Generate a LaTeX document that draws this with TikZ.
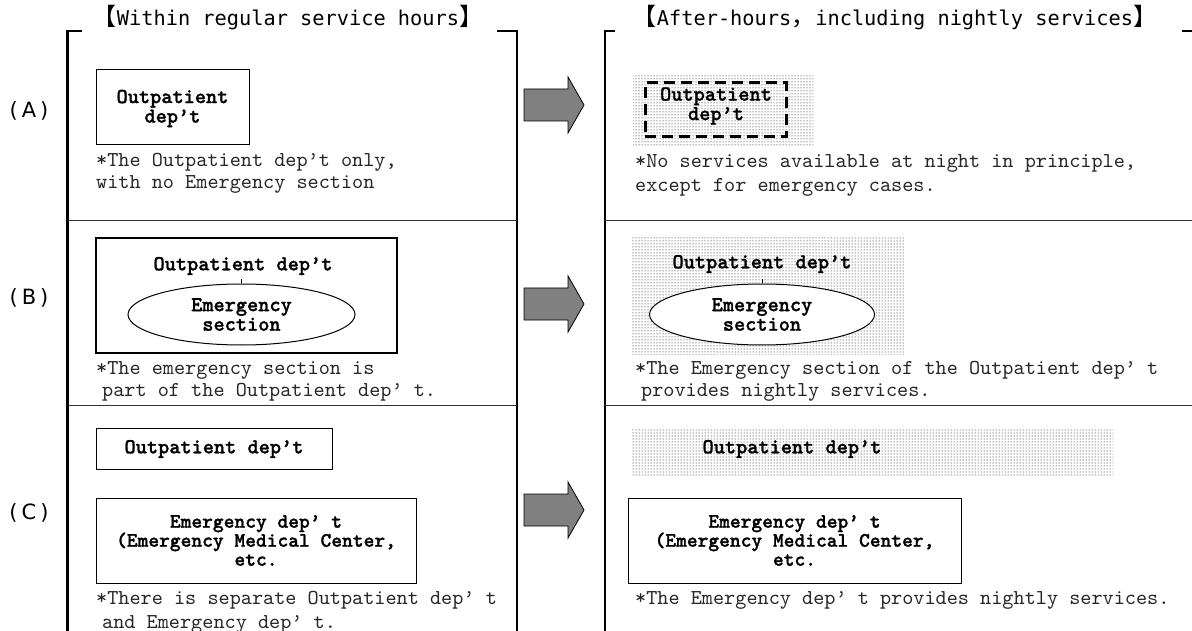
\documentclass[tikz,border=0pt]{standalone}
\usepackage{fontspec}
\usetikzlibrary{shapes.geometric,patterns}
\newfontfamily\notefont{lmmono10-regular}[Extension=.otf]
\newfontfamily\lblfont{lmmonolt10-bold}[Extension=.otf, FakeBold=1.2]
\newfontfamily\titlefont{DejaVu Sans Mono}
\newfontfamily\cjkfont{Noto Sans CJK SC}
\newfontfamily\labfont{DejaVu Sans}
\newcommand\lbr{{\cjkfont\fontsize{24}{24}\selectfont 【}}
\newcommand\rbr{{\cjkfont\fontsize{24}{24}\selectfont 】}}
\newcommand\fwcomma{{\cjkfont\fontsize{24}{24}\selectfont ，}}
\newcommand\grayarrow[2]{%
  \draw[garrow] (524,{#2-16}) -- (568,{#2-16}) -- (568,{#2-28}) -- (584,#2)
    -- (568,{#2+28}) -- (568,{#2+16}) -- (524,{#2+16}) -- cycle;
  \coordinate (#1) at (554,#2);}
\begin{document}
\begin{tikzpicture}[x=1pt,y=-1pt,
  frame/.style={line width=2.5pt},
  sepline/.style={line width=1pt, draw=black!80},
  box/.style={draw, line width=1pt, fill=white, inner sep=0pt},
  thickbox/.style={draw, line width=2.2pt, inner sep=0pt},
  dotbg/.style={pattern=dots, pattern color=black, inner sep=0pt},
  dashbox/.style={draw, line width=3pt, dash pattern=on 11pt off 6pt, inner sep=0pt},
  lbl/.style={font=\lblfont\fontsize{21.3}{19.5}\selectfont, align=center, inner sep=0pt},
  note/.style={font=\notefont\fontsize{21.2}{22}\selectfont, anchor=west, inner sep=0pt, text=black!85},
  ttl/.style={font=\titlefont\fontsize{20.3}{24}\selectfont, inner sep=0pt},
  rowlab/.style={font=\labfont\fontsize{21}{24}\selectfont, inner sep=0pt},
  garrow/.style={draw, line width=0.8pt, fill=black!50},
  ell/.style={ellipse, draw, line width=1pt, fill=white, inner sep=0pt, align=center,
     font=\lblfont\fontsize{21.3}{19.5}\selectfont}
]
\useasboundingbox (0,0) rectangle (1192,631);
\fill[white] (0,0) rectangle (1192,631);

% titles
\node[ttl] (t1) at (288,18) {\lbr Within regular service hours\rbr};
\node[ttl] (t2) at (895,18) {\lbr After-hours\fwcomma including nightly services\rbr};

% frames
\draw[frame] (82,31) -- (67.7,31) -- (67.7,640);
\draw[frame] (497,31) -- (517,31) -- (517,640);
\draw[frame] (615,31) -- (605,31) -- (605,640);
\draw[frame] (1182,31) -- (1192,31);
\draw[sepline] (67.7,221) -- (517,221);
\draw[sepline] (67.7,405) -- (517,405);
\draw[sepline] (605,221) -- (1192,221);
\draw[sepline] (605,405) -- (1192,405);

% row labels
\node[rowlab] (ra) at (29,111) {(\hspace{4pt}A\hspace{4pt})};
\node[rowlab] (rb) at (29,298) {(\hspace{4pt}B\hspace{4pt})};
\node[rowlab] (rc) at (29,513) {(\hspace{4pt}C\hspace{4pt})};

% arrows
\grayarrow{arA}{105}
\grayarrow{arB}{304}
\grayarrow{arC}{510}

% ---- Row A ----
\node[box, minimum width=153pt, minimum height=75pt] (boxA) at (172.5,107.5) {};
\node[lbl] (lblA) at (172.5,108.5) {Outpatient\\dep’t};
\node[note] (nA1) at (96,162) {*The Outpatient dep’t only,};
\node[note] (nA2) at (96,184) {with no Emergency section};

\node[dotbg, minimum width=180pt, minimum height=71pt] (dotA) at (723,111.5) {};
\node[dashbox, minimum width=141pt, minimum height=54pt] (dashA) at (715.5,110) {};
\node[lbl] (lblAr) at (716,106) {Outpatient\\dep’t};
\node[note] (nAr1) at (635,163) {*No services available at night in principle,};
\node[note] (nAr2) at (635,187) {except for emergency cases.};

% ---- Row B ----
\node[thickbox, minimum width=301pt, minimum height=115pt] (boxB) at (246.5,295.5) {};
\node[lbl] (lblB) at (243,266) {Outpatient dep’t};
\node[ell, minimum width=227pt, minimum height=61pt] (ellB) at (241.5,314.5) {Emergency\\section};
\draw[line width=0.6pt] (ellB.north) -- ++(0,-4);
\node[note] (nB1) at (96,370) {*The emergency section is};
\node[note] (nB2) at (102,392) {part of the Outpatient dep’ t.};

\node[dotbg, minimum width=272pt, minimum height=117pt] (dotB) at (768,295.5) {};
\node[lbl] (lblBr) at (762,264) {Outpatient dep’t};
\node[ell, minimum width=225pt, minimum height=61pt] (ellBr) at (762,314.5) {Emergency\\section};
\draw[line width=0.6pt] (ellBr.north) -- ++(0,-4);
\node[note] (nBr1) at (635,370) {*The Emergency section of the Outpatient dep’ t};
\node[note] (nBr2) at (641,392) {provides nightly services.};

% ---- Row C ----
\node[box, minimum width=236pt, minimum height=41pt] (boxC1) at (214,448.5) {};
\node[lbl] (lblC1) at (214,449) {Outpatient dep’t};
\node[box, minimum width=320pt, minimum height=85pt, align=center,
      font=\lblfont\fontsize{20.5}{19}\selectfont] (boxC2) at (256,540.5)
      {Emergency dep’ t\\(Emergency Medical Center,\\etc.};
\node[note] (nC1) at (96,600) {*There is separate Outpatient dep’ t};
\node[note] (nC2) at (102,624) {and Emergency dep’ t.};

\node[dotbg, minimum width=481pt, minimum height=47pt] (dotC) at (872.5,451.5) {};
\node[lbl] (lblCr) at (792,449) {Outpatient dep’t};
\node[box, minimum width=333pt, minimum height=85pt, align=center,
      font=\lblfont\fontsize{20.5}{19}\selectfont] (boxC2r) at (794.5,540.5)
      {Emergency dep’ t\\(Emergency Medical Center,\\etc.};
\node[note] (nCr) at (635,600) {*The Emergency dep’ t provides nightly services.};
\end{tikzpicture}
\end{document}
